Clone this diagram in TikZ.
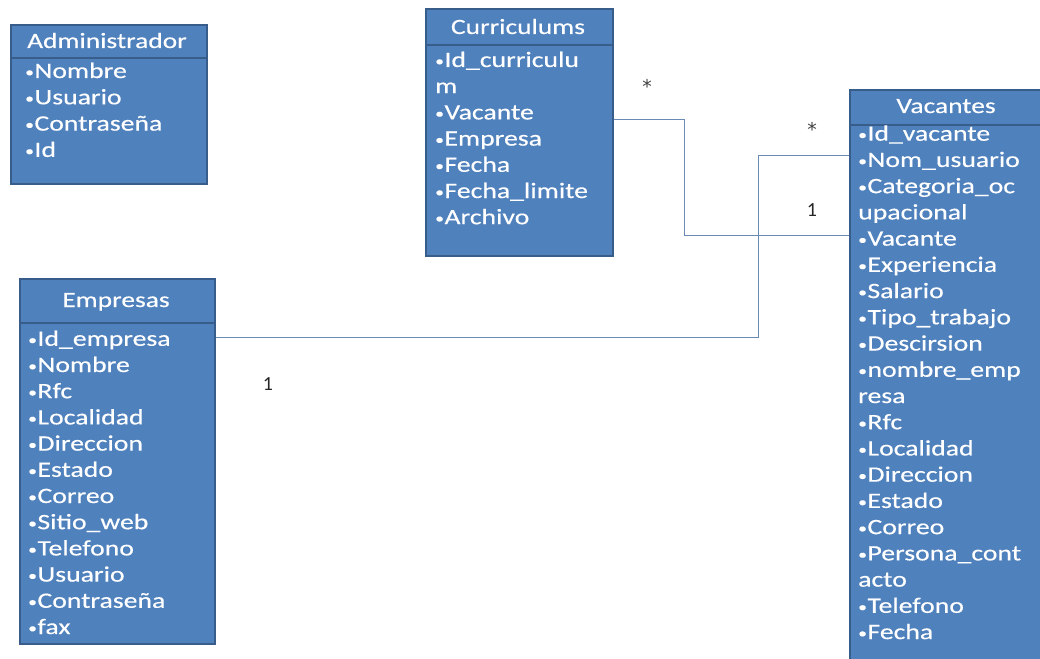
\documentclass[tikz,border=0pt]{standalone}
\usepackage{fontspec}
\setmainfont{Carlito}[FakeStretch=1.26,FakeBold=0.35]
\newfontfamily\labfont{Carlito}
\newfontfamily\starfont{DejaVu Sans}
\newcommand\itembul{{\fontsize{14}{14}\selectfont\raisebox{1.2pt}{•}}\hspace{0.5pt}}
\definecolor{boxfill}{HTML}{4F81BD}
\definecolor{boxline}{HTML}{385D8A}
\definecolor{conn}{HTML}{6A8BB3}
\tikzset{
  entity/.style={draw=boxline, line width=2.2pt, fill=boxfill, anchor=north west, inner sep=0pt},
  sep/.style={draw=boxline, line width=2pt},
  title/.style={text=white, font=\fontsize{21.8}{24}\selectfont, inner sep=0pt, anchor=base},
  attr/.style={text=white, font=\fontsize{22}{24}\selectfont, inner sep=0pt, anchor=base west},
  conline/.style={draw=conn, line width=1pt},
  mult/.style={font=\labfont\fontsize{20}{22}\selectfont, text=black!85, inner sep=0pt},
  star/.style={font=\starfont\fontsize{19}{20}\selectfont, text=black!75, inner sep=0pt}
}
\begin{document}
\begin{tikzpicture}[x=1pt,y=-1pt]
\useasboundingbox (0,0) rectangle (1040,658);
\clip (0,0) rectangle (1040,658);

% Administrador
\node[entity, minimum width=196pt, minimum height=159pt] (adm) at (10,24) {};
\draw[sep] (adm.west |- 0,58) -- (adm.east |- 0,58);
\node[title] (admT) at (107,48) {Administrador};
\foreach \t [count=\i] in {Nombre,Usuario,Contraseña,Id}
  \node[attr] (adm-\i) at (25,{78+26.3*(\i-1)}) {\itembul\t};

% Curriculums
\node[entity, minimum width=187pt, minimum height=247pt] (cur) at (425,8) {};
\draw[sep] (cur.west |- 0,45) -- (cur.east |- 0,45);
\node[title] (curT) at (518,34) {Curriculums};
\foreach \t/\b [count=\i] in {Id\_curriculu/1,m/0,Vacante/1,Empresa/1,Fecha/1,Fecha\_limite/1,Archivo/1}
  \node[attr] (cur-\i) at (435,{67+26.2*(\i-1)}) {\ifnum\b=1 \itembul\fi\t};

% Vacantes
\node[entity, minimum width=200pt, minimum height=580pt] (vac) at (849,89) {};
\draw[sep] (vac.west |- 0,125) -- (vac.east |- 0,125);
\node[title] (vacT) at (946,113) {Vacantes};
\foreach \t/\b [count=\i] in {Id\_vacante/1,Nom\_usuario/1,Categoria\_oc/1,upacional/0,Vacante/1,Experiencia/1,Salario/1,Tipo\_trabajo/1,Descirsion/1,nombre\_emp/1,resa/0,Rfc/1,Localidad/1,Direccion/1,Estado/1,Correo/1,Persona\_cont/1,acto/0,Telefono/1,Fecha/1}
  \node[attr] (vac-\i) at (858,{140.7+26.23*(\i-1)}) {\ifnum\b=1 \itembul\fi\t};

% Empresas
\node[entity, minimum width=195pt, minimum height=365pt] (emp) at (19,278) {};
\draw[sep] (emp.west |- 0,323) -- (emp.east |- 0,323);
\node[title] (empT) at (116,307) {Empresas};
\foreach \t [count=\i] in {Id\_empresa,Nombre,Rfc,Localidad,Direccion,Estado,Correo,Sitio\_web,Telefono,Usuario,Contraseña,fax}
  \node[attr] (emp-\i) at (28,{345.8+26.2*(\i-1)}) {\itembul\t};

% connectors
\coordinate (c1) at (684,119);
\coordinate (c2) at (684,235);
\draw[conline] (cur.east |- c1) -- (c1) -- (c2) -- (vac.west |- c2);
\coordinate (e1) at (758,337);
\coordinate (e2) at (758,155);
\draw[conline] (emp.east |- e1) -- (e1) -- (e2) -- (vac.west |- e2);

% multiplicities
\node[star] (m1) at (647,86) {*};
\node[star] (m2) at (812,129) {*};
\node[mult] (m3) at (812,210) {1};
\node[mult] (m4) at (268,384) {1};
\end{tikzpicture}
\end{document}
